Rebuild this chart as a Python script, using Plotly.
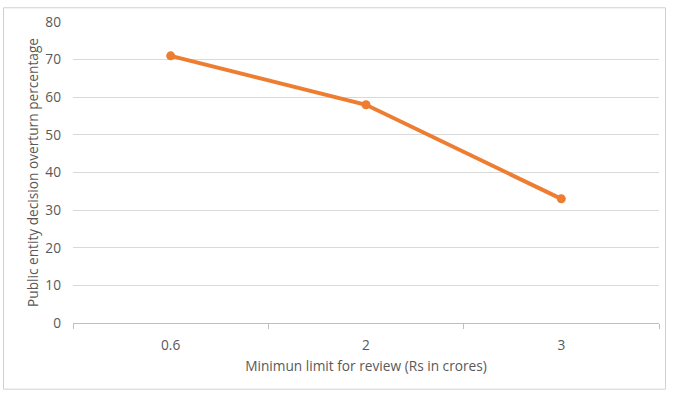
import plotly.graph_objects as go

# Minimum review limit (Rs in crores) and the share of public-entity decisions overturned
limits = ["0.6", "2", "3"]
overturn_pct = [71, 58, 33]

W, H = 678, 394
M_L, M_R, M_T, M_B = 73, 19, 16, 71
TEXT = "#595959"
FONT = "Open Sans, Liberation Sans, sans-serif"
FS = 13.7

fig = go.Figure(
    go.Scatter(
        x=limits,
        y=overturn_pct,
        mode="lines+markers",
        line=dict(color="#ED7D31", width=4),
        marker=dict(color="#ED7D31", size=9),
        hoverinfo="x+y",
    )
)

pw = W - M_L - M_R
ph = H - M_T - M_B

# light frame around the whole chart
fig.add_shape(
    type="rect", xref="paper", yref="paper",
    x0=(3.5 - M_L) / pw, x1=(665.5 - M_L) / pw,
    y0=-(390.5 - M_T - ph) / ph, y1=1 + (M_T - 1.5) / ph,
    line=dict(color="#d0d0d0", width=1),
    layer="below",
)

fig.update_layout(
    width=W, height=H,
    margin=dict(l=M_L, r=M_R, t=M_T, b=M_B),
    paper_bgcolor="white", plot_bgcolor="white",
    showlegend=False,
    font=dict(family=FONT, size=FS, color=TEXT),
    xaxis=dict(
        type="category",
        range=[-0.5, 2.5],
        showgrid=False,
        showline=True, linecolor="#bfbfbf", linewidth=1,
        ticks="outside", tickson="boundaries", ticklen=5, tickcolor="#bfbfbf",
        ticklabelstandoff=10,
        tickfont=dict(size=FS, color=TEXT),
        title=dict(text="Minimun limit for review (Rs in crores)",
                   font=dict(size=FS, color=TEXT), standoff=7),
        zeroline=False,
    ),
    yaxis=dict(
        range=[0, 80],
        dtick=10,
        showgrid=True, gridcolor="#d9d9d9", gridwidth=1,
        zeroline=False,
        showline=False,
        ticks="",
        ticklabelstandoff=11,
        tickfont=dict(size=FS, color=TEXT),
        title=dict(text="Public entity decision overturn percentage",
                   font=dict(size=FS, color=TEXT), standoff=3),
    ),
)

fig.write_html("out.html")
